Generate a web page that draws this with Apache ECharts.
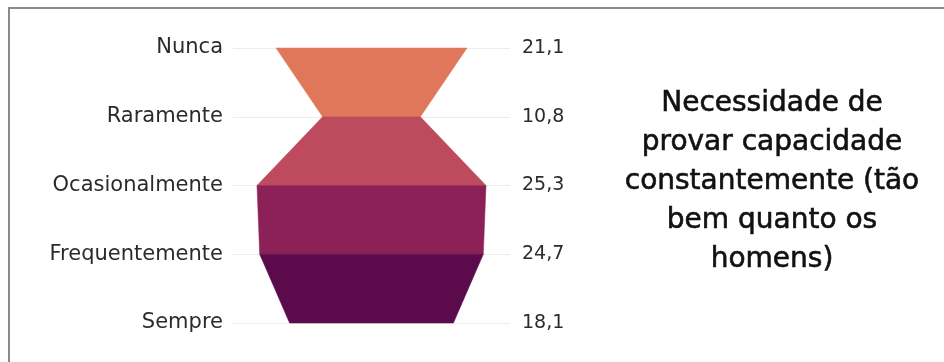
<!DOCTYPE html>
<html><head><meta charset="utf-8">
<script src="https://cdn.jsdelivr.net/npm/echarts@6/dist/echarts.min.js"></script>
<style>html,body{margin:0;padding:0;background:#fff}#c{width:944px;height:362px}</style>
</head><body><div id="c"></div>
<script>
const categories = ['Nunca','Raramente','Ocasionalmente','Frequentemente','Sempre'];
const values = [21.1, 10.8, 25.3, 24.7, 18.1];
const valueLabels = ['21,1','10,8','25,3','24,7','18,1'];
const bandColors = ['#E0775A','#BD4A5D','#8C2157','#5B0A4B'];
const titleLines = ['Necessidade de','provar capacidade','constantemente (tão','bem quanto os','homens)'];

const chart = echarts.init(document.getElementById('c'));
const bands = [];
for (let i = 0; i < values.length - 1; i++) bands.push([i, values[i], values[i+1]]);

chart.setOption({
  animation: false,
  grid: {left: 233, right: 434, top: 48, bottom: 39},
  xAxis: {type: 'value', min: -15.3, max: 15.3, show: false},
  yAxis: [{
    type: 'category', data: categories, inverse: true, boundaryGap: false,
    axisLine: {show: false}, axisTick: {show: false},
    splitLine: {show: true, lineStyle: {color: '#ececec', width: 1}},
    axisLabel: {fontFamily: 'DejaVu Sans', fontSize: 21, color: '#2b2b2b', margin: 10}
  },{
    type: 'category', data: valueLabels, inverse: true, boundaryGap: false, position: 'right',
    axisLine: {show: false}, axisTick: {show: false}, splitLine: {show: false},
    axisLabel: {fontFamily: 'DejaVu Sans', fontSize: 19, color: '#2b2b2b', margin: 12}
  }],
  series: [{
    type: 'custom',
    data: bands,
    renderItem: function (params, api) {
      const i = api.value(0), a = api.value(1) / 2, b = api.value(2) / 2;
      const pts = [api.coord([-a, i]), api.coord([a, i]), api.coord([b, i + 1]), api.coord([-b, i + 1])];
      return {type: 'polygon', shape: {points: pts},
        style: {fill: bandColors[params.dataIndex], stroke: bandColors[params.dataIndex], lineWidth: 0.5}};
    }
  }],
  graphic: [
    {type: 'rect', shape: {x: 9, y: 8, width: 1000, height: 400},
     style: {fill: 'none', stroke: '#8a8a8a', lineWidth: 2}, silent: true},
    {type: 'text', x: 772, y: 84,
     style: {text: titleLines.join('\n'), textAlign: 'center', fontFamily: 'DejaVu Sans', fontSize: 28,
       lineHeight: 39, fill: '#111', stroke: '#111', lineWidth: 0.6}}
  ]
});
</script></body></html>
